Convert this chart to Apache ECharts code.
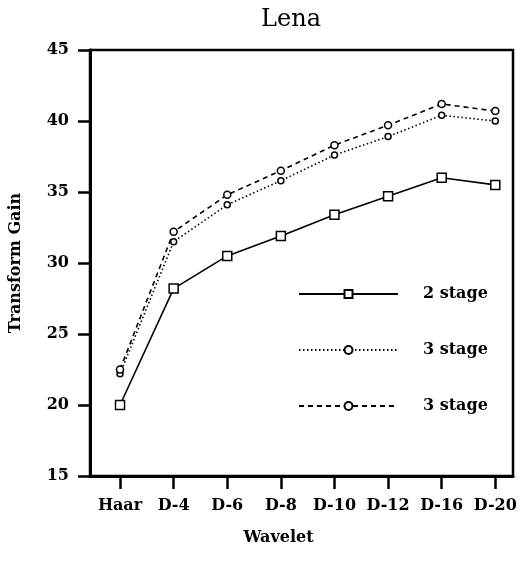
<!DOCTYPE html>
<html>
<head>
<meta charset="utf-8">
<script src="https://cdn.jsdelivr.net/npm/echarts@6/dist/echarts.min.js"></script>
<style>html,body{margin:0;padding:0;background:#fff}#c{width:521px;height:561px}</style>
</head>
<body>
<div id="c"></div>
<script>
const categories = ['Haar', 'D-4', 'D-6', 'D-8', 'D-10', 'D-12', 'D-16', 'D-20'];
const stage2 = [20.0, 28.2, 30.5, 31.9, 33.4, 34.7, 36.0, 35.5];
const stage3Dotted = [22.2, 31.5, 34.1, 35.8, 37.6, 38.9, 40.4, 40.0];
const stage3Dashed = [22.5, 32.2, 34.8, 36.5, 38.3, 39.7, 41.2, 40.7];
const yTicks = [15, 20, 25, 30, 35, 40, 45];

const FONT = 'DejaVu Serif';
const idx = categories.map((c, i) => i);
const pairs = arr => arr.map((v, i) => [i, v]);

const chart = echarts.init(document.getElementById('c'), null, {renderer: 'canvas'});
chart.setOption({
  backgroundColor: '#fff',
  animation: false,
  title: {
    text: 'Lena',
    left: 286, top: 3, textAlign: 'center',
    textStyle: {fontFamily: FONT, fontSize: 24, fontWeight: 'normal', color: '#000'}
  },
  grid: {left: 90, right: 8, top: 50, bottom: 85, show: true, borderColor: '#000', borderWidth: 2.5, backgroundColor: 'transparent'},
  legend: {
    orient: 'vertical', left: 293, top: 281,
    itemWidth: 99, itemHeight: 10, itemGap: 40,
    textStyle: {fontFamily: FONT, fontSize: 16, fontWeight: 'bold', color: '#000', padding: [0, 0, 0, 20], lineHeight: 16},
    data: ['2 stage', '3 stage ', '3 stage']
  },
  xAxis: {
    type: 'value', min: -0.56, max: 7.33,
    name: 'Wavelet', nameLocation: 'middle', nameGap: 54,
    nameTextStyle: {fontFamily: FONT, fontSize: 16, fontWeight: 'bold', color: '#000', padding: [0, 46, 0, 0]},
    axisLine: {show: true, onZero: false, lineStyle: {color: '#000', width: 3}},
    axisTick: {show: true, inside: false, length: 13, lineStyle: {color: '#000', width: 2.5}, customValues: idx},
    axisLabel: {customValues: idx, margin: 22, fontFamily: FONT, fontSize: 16, fontWeight: 'bold', color: '#000',
      formatter: v => categories[Math.round(v)]},
    splitLine: {show: false}
  },
  yAxis: {
    type: 'value', min: 15, max: 45, interval: 5,
    name: 'Transform Gain', nameLocation: 'middle', nameGap: 66, nameRotate: 90,
    nameTextStyle: {fontFamily: FONT, fontSize: 16, fontWeight: 'bold', color: '#000'},
    axisLine: {show: true, onZero: false, lineStyle: {color: '#000', width: 3}},
    axisTick: {show: true, inside: false, length: 12, lineStyle: {color: '#000', width: 2.5}},
    axisLabel: {margin: 21, fontFamily: FONT, fontSize: 16, fontWeight: 'bold', color: '#000',
      formatter: v => yTicks.includes(v) ? String(v) : ''},
    splitLine: {show: false}
  },
  series: [
    {
      name: '2 stage', type: 'line', data: pairs(stage2),
      symbol: 'rect', symbolSize: 9,
      lineStyle: {color: '#000', width: 1.6, type: 'solid'},
      itemStyle: {color: '#fff', borderColor: '#000', borderWidth: 1.5}
    },
    {
      name: '3 stage ', type: 'line', data: pairs(stage3Dotted),
      symbol: 'circle', symbolSize: 6,
      lineStyle: {color: '#000', width: 1.6, type: [1.5, 2.5]},
      itemStyle: {color: '#fff', borderColor: '#000', borderWidth: 1.5}
    },
    {
      name: '3 stage', type: 'line', data: pairs(stage3Dashed),
      symbol: 'circle', symbolSize: 7,
      lineStyle: {color: '#000', width: 1.6, type: [5, 4]},
      itemStyle: {color: '#fff', borderColor: '#000', borderWidth: 1.5}
    }
  ]
});
</script>
</body>
</html>
